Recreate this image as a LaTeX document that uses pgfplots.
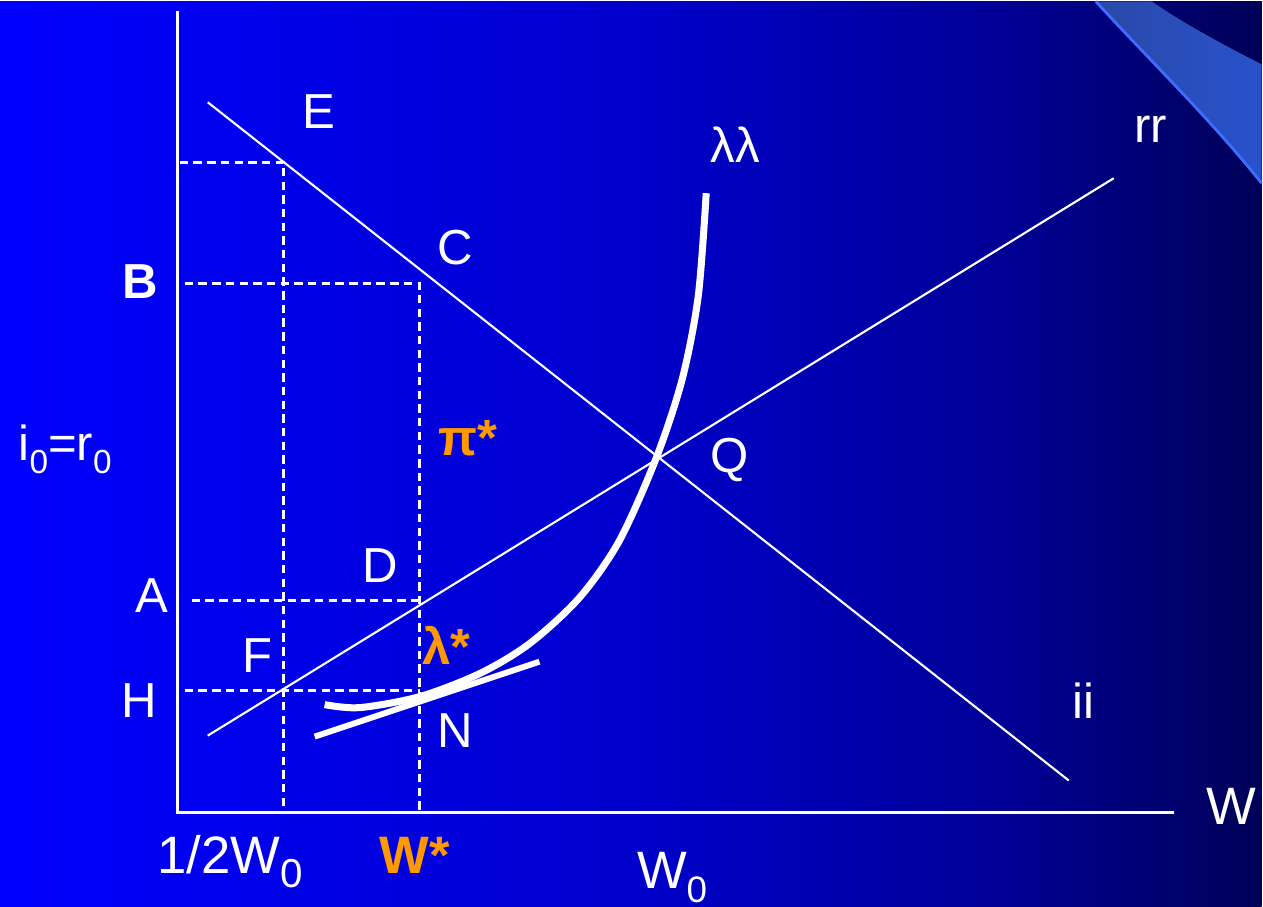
\documentclass[border=0pt]{standalone}
\usepackage{pgfplots}
\pgfplotsset{compat=1.18}
\usepackage{fontspec}
\setmainfont{Liberation Sans}
\definecolor{orng}{RGB}{255,153,0}
\definecolor{bgA}{RGB}{0,0,255}
\definecolor{bgB}{RGB}{0,0,204}
\definecolor{bgC}{RGB}{0,0,150}
\definecolor{bgD}{RGB}{0,0,88}
\definecolor{bandL}{RGB}{42,72,168}
\definecolor{bandR}{RGB}{40,82,204}
\definecolor{bandedge}{RGB}{62,108,255}
\begin{document}
\begin{tikzpicture}[
  lbl/.style={text=white, font=\fontsize{14}{16}\selectfont, inner sep=0pt},
  big/.style={text=white, font=\fontsize{15}{17}\selectfont, inner sep=0pt},
  olbl/.style={text=orng, font=\fontsize{14.5}{17}\selectfont\bfseries, inner sep=0pt}]
\begin{axis}[width=126.3mm, height=90.6mm, scale only axis,
  xmin=0, xmax=1263, ymin=0, ymax=906, y dir=reverse,
  hide axis, clip=false]
% background
\fill[left color=bgA, right color=bgB, draw=none] (axis cs:0,0) rectangle (axis cs:632,906);
\fill[left color=bgB, right color=bgC, draw=none] (axis cs:631,0) rectangle (axis cs:1001,906);
\fill[left color=bgC, right color=bgD, draw=none] (axis cs:1000,0) rectangle (axis cs:1263,906);
% decorative band
\fill[left color=bandL, right color=bandR, draw=none] (axis cs:1097,0) .. controls (axis cs:1150,58) and (axis cs:1212,118) .. (axis cs:1263,182) -- (axis cs:1263,63) .. controls (axis cs:1222,42) and (axis cs:1185,22) .. (axis cs:1153,0) -- cycle;
\draw[bandedge, line width=0.8pt] (axis cs:1097,0) .. controls (axis cs:1150,58) and (axis cs:1212,118) .. (axis cs:1263,182);

% axes
\addplot[white, line width=0.85pt] coordinates {(178,10) (178,812) (1175,812)};
% ii and rr
\addplot[white, line width=0.6pt] coordinates {(208,101) (1070,780)};
\addplot[white, line width=0.6pt] coordinates {(208,735) (1115,177)};
% dashed guides
\addplot[white, line width=0.8pt, dash pattern=on 2.4pt off 1.5pt] coordinates {(180,161) (284,161) (284,812)};
\addplot[white, line width=0.8pt, dash pattern=on 2.4pt off 1.5pt] coordinates {(185,282) (420,282) (420,812)};
\addplot[white, line width=0.8pt, dash pattern=on 2.4pt off 1.5pt] coordinates {(192,600) (420,600)};
\addplot[white, line width=0.8pt, dash pattern=on 2.4pt off 1.5pt] coordinates {(185,690) (420,690)};
% lambda-lambda curve
\addplot[white, line width=2pt, smooth] coordinates {
(325,704) (360,707) (420,696) (480,673) (530,643) (580,597) (620,540)
(657,457) (683,378) (699,295) (707,192)};
% tangent at N
\addplot[white, line width=1.7pt] coordinates {(315,736) (540,661)};

% labels
\node[lbl] at (axis cs:319,110) {E};
\node[lbl] at (axis cs:456,246) {C};
\node[lbl] at (axis cs:736,143) {λλ};
\node[lbl] at (axis cs:1152,128) {rr};
\node[lbl, font=\fontsize{14}{16}\selectfont\bfseries] at (axis cs:140,280) {B};
\node[olbl] at (axis cs:468,437) {π*};
\node[lbl] at (axis cs:730,459) {Q};
\node[lbl, anchor=base west] at (axis cs:18,460) {i\raisebox{-3.7pt}{\fontsize{9.5}{10}\selectfont 0}=r\raisebox{-3.7pt}{\fontsize{9.5}{10}\selectfont 0}};
\node[lbl] at (axis cs:381,565) {D};
\node[lbl] at (axis cs:152,595) {A};
\node[lbl] at (axis cs:258,655) {F};
\node[olbl] at (axis cs:447,645) {λ*};
\node[lbl] at (axis cs:139,700) {H};
\node[lbl] at (axis cs:456,730) {N};
\node[lbl] at (axis cs:1085,700) {ii};
\node[big] at (axis cs:1233,806) {W};
\node[big, anchor=base west] at (axis cs:157,873) {1/2W\raisebox{-4pt}{\fontsize{11.5}{12}\selectfont 0}};
\node[olbl, font=\fontsize{15}{17}\selectfont\bfseries, anchor=base west] at (axis cs:379,873) {W*};
\node[big, anchor=base west] at (axis cs:637,888) {W\raisebox{-4pt}{\fontsize{10.5}{11}\selectfont 0}};
\end{axis}
\end{tikzpicture}
\end{document}
